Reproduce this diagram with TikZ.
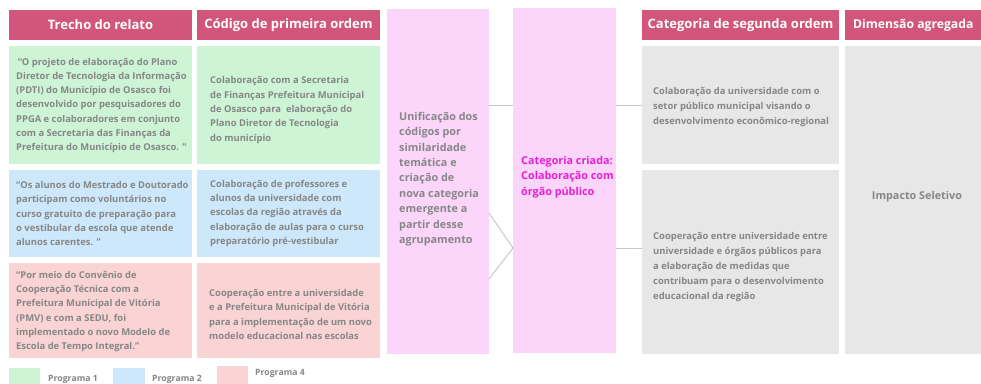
\documentclass[tikz,border=0pt]{standalone}
\usepackage{fontspec}
\setmainfont{Open Sans}
\definecolor{hdrc}{HTML}{D2557C}
\definecolor{grn}{HTML}{CDF5D5}
\definecolor{blu}{HTML}{CCE8FA}
\definecolor{red}{HTML}{FAD4D4}
\definecolor{pnk}{HTML}{FCD6FA}
\definecolor{gry}{HTML}{E7E7E7}
\definecolor{txt}{HTML}{868686}
\definecolor{mag}{HTML}{E61FD6}
\definecolor{lin}{HTML}{C8C8C8}
\newcommand\bodyf{\fontsize{9.4pt}{14.3pt}\selectfont\bfseries}
\newcommand\grayf{\fontsize{9.4pt}{15pt}\selectfont\bfseries}
\newcommand\pinkf{\fontsize{10.8pt}{15.4pt}\selectfont\bfseries}
\newcommand\hdrf{\fontsize{13pt}{15pt}\selectfont\bfseries}
\newcommand\hdrsf{\fontsize{12.2pt}{15pt}\selectfont\bfseries}
\newcommand\legf{\fontsize{8.7pt}{10pt}\selectfont\bfseries}
\tikzset{
  x=1pt, y=-1pt,
  boxn/.style={draw=none, inner sep=0pt, outer sep=0pt, anchor=north west},
  hdr/.style={text=white, font=\hdrf, inner sep=0pt},
  body/.style={text=txt, font=\bodyf, align=left, anchor=west, inner sep=0pt},
  gbody/.style={text=txt, font=\grayf, align=left, anchor=west, inner sep=0pt},
  ptext/.style={text=txt, font=\pinkf, align=left, anchor=west, inner sep=0pt},
  mtext/.style={text=mag, font=\pinkf, align=left, anchor=west, inner sep=0pt},
  leg/.style={text=txt, font=\legf, anchor=west, inner sep=0pt},
  conn/.style={draw=lin, line width=1pt},
}
\begin{document}
\begin{tikzpicture}
\useasboundingbox (0,0) rectangle (981,383);
% headers
\node[boxn, fill=hdrc, minimum width=183, minimum height=30] (h1) at (9,10) {};
\node[boxn, fill=hdrc, minimum width=183, minimum height=30] (h2) at (197,10) {};
\node[boxn, fill=hdrc, minimum width=197, minimum height=30] (h3) at (642,10) {};
\node[boxn, fill=hdrc, minimum width=136, minimum height=30] (h4) at (845,10) {};
\node[hdr] (h1t) at (h1.center) {Trecho do relato};
\node[hdr] (h2t) at (h2.center) {Código de primeira ordem};
\node[hdr] (h3t) at (h3.center) {Categoria de segunda ordem};
\node[hdr, font=\hdrsf, anchor=west] (h4t) at (853,25) {Dimensão agregada};
% left column
\node[boxn, fill=grn, minimum width=183, minimum height=118] (g1) at (9,46) {};
\node[boxn, fill=grn, minimum width=183, minimum height=118] (g2) at (197,46) {};
\node[boxn, fill=blu, minimum width=183, minimum height=87] (b1) at (9,170) {};
\node[boxn, fill=blu, minimum width=183, minimum height=87] (b2) at (197,170) {};
\node[boxn, fill=red, minimum width=183, minimum height=95] (r1) at (9,263) {};
\node[boxn, fill=red, minimum width=183, minimum height=95] (r2) at (197,263) {};
\node[body] (g1t) at (16,105.5) {\,“O projeto de elaboração do Plano\\Diretor de Tecnologia da Informação\\(PDTI) do Município de Osasco foi\\desenvolvido por pesquisadores do\\PPGA e colaboradores em conjunto\\com a Secretaria das Finanças da\\Prefeitura do Município de Osasco. ”};
\node[body] (g2t) at (210,110) {Colaboração com a Secretaria\\de Finanças Prefeitura Municipal\\de Osasco para\ \ elaboração do\\Plano Diretor de Tecnologia\\do município};
\node[body] (b1t) at (16,213.5) {“Os alunos do Mestrado e Doutorado\\participam como voluntários no\\curso gratuito de preparação para\\o vestibular da escola que atende\\alunos carentes. ”};
\node[body] (b2t) at (210,213.5) {Colaboração de professores e\\alunos da universidade com\\escolas da região através da\\elaboração de aulas para o curso\\preparatório pré-vestibular};
\node[body] (r1t) at (16,311.5) {“Por meio do Convênio de\\Cooperação Técnica com a\\Prefeitura Municipal de Vitória\\(PMV) e com a SEDU, foi\\implementado o novo Modelo de\\Escola de Tempo Integral.”};
\node[body] (r2t) at (209,314.5) {Cooperação entre a universidade\\e a Prefeitura Municipal de Vitória\\para a implementação de um novo\\modelo educacional nas escolas};
% pink columns
\node[boxn, fill=pnk, minimum width=102, minimum height=345] (p1) at (387,9) {};
\node[boxn, fill=pnk, minimum width=103, minimum height=345] (p2) at (513,8) {};
\node[ptext] (p1t) at (399,179) {Unificação dos\\códigos por\\similaridade\\temática e\\criação de\\nova categoria\\emergente a\\partir desse\\agrupamento};
\node[mtext] (p2t) at (521,177) {Categoria criada:\\Colaboração com\\órgão público};
% gray column
\node[boxn, fill=gry, minimum width=197, minimum height=118] (c1) at (642,46) {};
\node[boxn, fill=gry, minimum width=197, minimum height=184] (c2) at (642,170) {};
\node[boxn, fill=gry, minimum width=136, minimum height=308] (d1) at (845,46) {};
\node[gbody] (c1t) at (653,107) {Colaboração da universidade com o\\setor público municipal visando o\\desenvolvimento econômico-regional};
\node[gbody] (c2t) at (653,267) {Cooperação entre universidade entre\\universidade e órgãos públicos para\\a elaboração de medidas que\\contribuam para o desenvolvimento\\educacional da região};
\node[text=txt, font=\pinkf, inner sep=0pt] (d1t) at (917,197) {Impacto Seletivo};
% connectors
\coordinate (k1) at (489,213);
\coordinate (k2) at (513,248);
\coordinate (k3) at (489,279);
\draw[conn] (p1.east |- g1.center) -- (p2.west |- g1.center);
\draw[conn] (k1) -- (k2) -- (k3);
\draw[conn] (p2.east |- c1.center) -- (c1.west);
\draw[conn] (p2.east |- k2) -- (c2.west |- k2);
% legend
\node[boxn, fill=grn, minimum width=31, minimum height=20] (l1) at (9,368) {};
\node[boxn, fill=blu, minimum width=32, minimum height=20] (l2) at (113,368) {};
\node[boxn, fill=red, minimum width=31, minimum height=20] (l3) at (217,366) {};
\node[leg] (l1t) at (48,379) {Programa 1};
\node[leg] (l2t) at (152,379) {Programa 2};
\node[leg] (l3t) at (255,373) {Programa 4};
\end{tikzpicture}
\end{document}
